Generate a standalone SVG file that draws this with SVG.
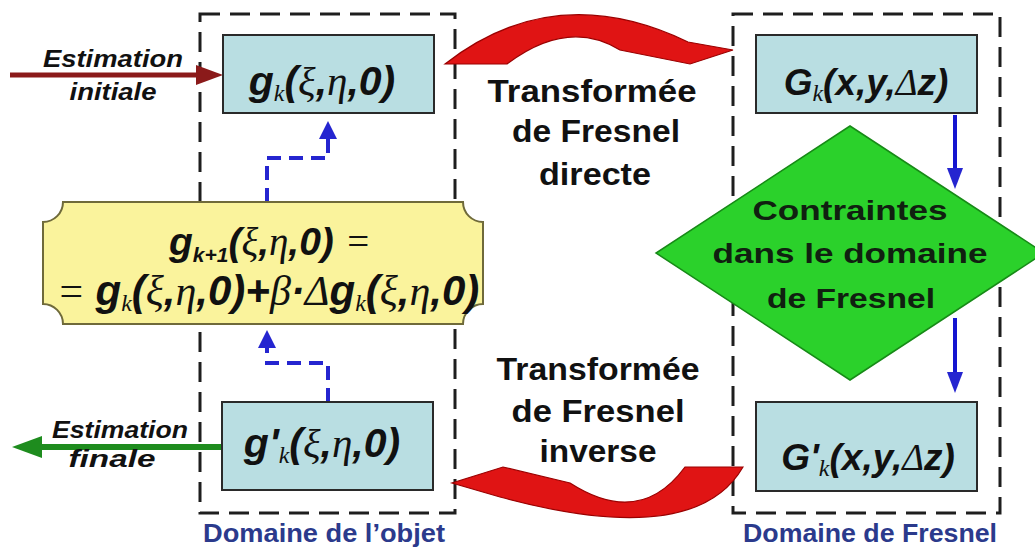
<svg xmlns="http://www.w3.org/2000/svg" width="1035" height="551" viewBox="0 0 1035 551">
<style>
.frame{fill:none;stroke:#1e1e1e;stroke-width:3;stroke-dasharray:20 10}
.box{fill:#B9DEE2;stroke:#2a2a2a;stroke-width:2}
.mb{font-family:"Liberation Sans",Arial,sans-serif;font-weight:bold;font-style:italic;fill:#111}
.gr{font-family:"Liberation Serif","Times New Roman",serif;font-style:italic;font-weight:normal;fill:#111}
.sub{font-family:"Liberation Serif","Times New Roman",serif;font-style:italic;font-size:24px;fill:#111}
.subb{font-family:"Liberation Sans",Arial,sans-serif;font-style:italic;font-weight:bold;font-size:21px;fill:#111}
.lbl{font-family:"Liberation Sans",Arial,sans-serif;font-weight:bold;font-style:italic;font-size:23px;fill:#111;text-anchor:middle}
.tf{font-family:"Liberation Sans",Arial,sans-serif;font-weight:bold;font-size:31px;fill:#111;text-anchor:middle}
.dt{font-family:"Liberation Sans",Arial,sans-serif;font-weight:bold;font-size:28px;fill:#102010;text-anchor:middle}
.dom{font-family:"Liberation Sans",Arial,sans-serif;font-weight:bold;font-size:26px;fill:#2B3A8C;text-anchor:middle}
.bdash{fill:none;stroke:#2525D0;stroke-width:4;stroke-dasharray:14 8}
.bsol{fill:none;stroke:#1515D0;stroke-width:4}
.bhead{fill:#2525D0}
.red{fill:#E01414;stroke:#9A0000;stroke-width:1.2}
</style>
<g id="frames">
<rect id="frame-objet" class="frame" x="200" y="14" width="255" height="499"/>
<rect id="frame-fresnel" class="frame" x="733" y="14" width="267" height="499"/>
</g>
<g id="connectors">
<path class="red" d="M445,64 Q555,-22 688,42 L733,50 L690,64 L620,50 Q568,18 507,64 Z"/>
<path class="red" d="M743,467 Q695,550 500,497 L452,483 L503,467 L570,483 Q640,528 685,467 Z"/>
<line x1="10" y1="75" x2="200" y2="75" stroke="#8B1A1A" stroke-width="5"/>
<polygon points="223,75 196,65 196,85" fill="#8B1A1A"/>
<line x1="222" y1="447" x2="38" y2="447" stroke="#1E8C1E" stroke-width="6"/>
<polygon points="12,447 42,436 42,458" fill="#1E8C1E"/>
<line class="bsol" x1="955" y1="115" x2="955" y2="170"/>
<polygon class="bhead" points="955,189 947,168 963,168"/>
<line class="bsol" x1="955" y1="318" x2="955" y2="374"/>
<polygon class="bhead" points="955,393 947,372 963,372"/>
<path class="bdash" d="M328,402 V363 H267 V348"/>
<polygon class="bhead" points="267,330 258,348 276,348"/>
<path class="bdash" d="M267,202 V158 H328 V138"/>
<polygon class="bhead" points="328,121 319,139 337,139"/>
</g>
<g id="label-initiale">
<text class="lbl" x="113" y="67" textLength="140" lengthAdjust="spacingAndGlyphs">Estimation</text>
<text class="lbl" x="113" y="100" textLength="87" lengthAdjust="spacingAndGlyphs">initiale</text>
</g>
<g id="label-finale">
<text class="lbl" x="120" y="438" textLength="136" lengthAdjust="spacingAndGlyphs">Estimation</text>
<text class="lbl" x="112" y="467" textLength="87" lengthAdjust="spacingAndGlyphs">finale</text>
</g>
<g id="node-gk">
<rect class="box" x="223" y="35" width="211" height="78"/>
<text x="322" y="95" text-anchor="middle" font-size="41"><tspan class="mb">g</tspan><tspan class="sub" dy="6">k</tspan><tspan class="mb" dy="-6">(</tspan><tspan class="gr">ξ</tspan><tspan class="mb">,</tspan><tspan class="gr">η</tspan><tspan class="mb">,0)</tspan></text>
</g>
<g id="node-gpk">
<rect class="box" x="222" y="402" width="211" height="88"/>
<text x="322" y="457" text-anchor="middle" font-size="41"><tspan class="mb">g'</tspan><tspan class="sub" dy="6">k</tspan><tspan class="mb" dy="-6">(</tspan><tspan class="gr">ξ</tspan><tspan class="mb">,</tspan><tspan class="gr">η</tspan><tspan class="mb">,0)</tspan></text>
</g>
<g id="node-Gk">
<rect class="box" x="756" y="35" width="221" height="78"/>
<text x="866" y="95" text-anchor="middle" font-size="37"><tspan class="mb">G</tspan><tspan class="sub" dy="6">k</tspan><tspan class="mb" dy="-6">(x,y,</tspan><tspan class="gr">Δ</tspan><tspan class="mb">z)</tspan></text>
</g>
<g id="node-Gpk">
<rect class="box" x="756" y="402" width="221" height="89"/>
<text x="868" y="470" text-anchor="middle" font-size="37"><tspan class="mb">G'</tspan><tspan class="sub" dy="6">k</tspan><tspan class="mb" dy="-6">(x,y,</tspan><tspan class="gr">Δ</tspan><tspan class="mb">z)</tspan></text>
</g>
<g id="node-update">
<path d="M63,202 H463 A20,20 0 0 0 483,222 V304 A20,20 0 0 0 463,324 H63 A20,20 0 0 0 43,304 V222 A20,20 0 0 0 63,202 Z" fill="#FAF39C" stroke="#6F6A3A" stroke-width="2"/>
<text x="270" y="255" text-anchor="middle" font-size="39"><tspan class="mb">g</tspan><tspan class="subb" dy="7">k+1</tspan><tspan class="mb" dy="-7">(</tspan><tspan class="gr">ξ</tspan><tspan class="mb">,</tspan><tspan class="gr">η</tspan><tspan class="mb">,0) </tspan><tspan class="gr">=</tspan></text>
<text x="268" y="305" text-anchor="middle" font-size="42"><tspan class="gr">= </tspan><tspan class="mb">g</tspan><tspan class="sub" dy="6">k</tspan><tspan class="mb" dy="-6">(</tspan><tspan class="gr">ξ</tspan><tspan class="mb">,</tspan><tspan class="gr">η</tspan><tspan class="mb">,0)+</tspan><tspan class="gr" font-weight="bold">β</tspan><tspan class="mb">·</tspan><tspan class="gr">Δ</tspan><tspan class="mb">g</tspan><tspan class="sub" dy="6">k</tspan><tspan class="mb" dy="-6">(</tspan><tspan class="gr">ξ</tspan><tspan class="mb">,</tspan><tspan class="gr">η</tspan><tspan class="mb">,0)</tspan></text>
</g>
<g id="label-directe">
<text class="tf" x="592" y="102" textLength="209" lengthAdjust="spacingAndGlyphs">Transformée</text>
<text class="tf" x="596" y="142" textLength="168" lengthAdjust="spacingAndGlyphs">de Fresnel</text>
<text class="tf" x="595" y="185" textLength="112" lengthAdjust="spacingAndGlyphs">directe</text>
</g>
<g id="label-inverse">
<text class="tf" x="598" y="380" textLength="203" lengthAdjust="spacingAndGlyphs">Transformée</text>
<text class="tf" x="598" y="422" textLength="173" lengthAdjust="spacingAndGlyphs">de Fresnel</text>
<text class="tf" x="598" y="462" textLength="117" lengthAdjust="spacingAndGlyphs">inverse</text>
</g>
<g id="node-contraintes">
<polygon points="850,126 1044,253 850,380 656,253" fill="#2BD12B" stroke="#178A17" stroke-width="1.5"/>
<text class="dt" x="850" y="220" textLength="195" lengthAdjust="spacingAndGlyphs">Contraintes</text>
<text class="dt" x="850" y="263" textLength="275" lengthAdjust="spacingAndGlyphs">dans le domaine</text>
<text class="dt" x="851" y="308" textLength="168" lengthAdjust="spacingAndGlyphs">de Fresnel</text>
</g>
<g id="label-domaines">
<text class="dom" x="324" y="542" textLength="242" lengthAdjust="spacingAndGlyphs">Domaine de l’objet</text>
<text class="dom" x="870" y="542" textLength="254" lengthAdjust="spacingAndGlyphs">Domaine de Fresnel</text>
</g>
</svg>
